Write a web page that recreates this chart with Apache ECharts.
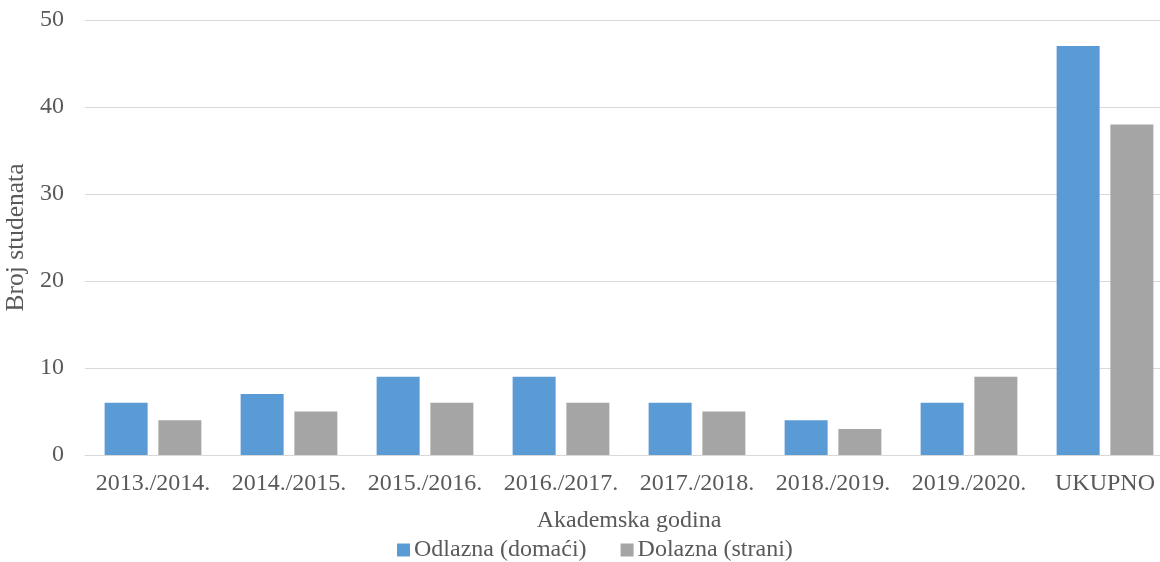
<!DOCTYPE html>
<html>
<head>
<meta charset="utf-8">
<script src="https://cdn.jsdelivr.net/npm/echarts@6/dist/echarts.min.js"></script>
<style>
  html, body { margin: 0; padding: 0; background: #fff; }
  #chart { width: 1160px; height: 562px; }
</style>
</head>
<body>
<div id="chart"></div>
<script>
(()=>{
    "use strict";
    // data
    const years = ["2013./2014.", "2014./2015.", "2015./2016.", "2016./2017.", "2017./2018.", "2018./2019.", "2019./2020.", "UKUPNO"];
    const odlazna = [6, 7, 9, 9, 6, 4, 6, 47];
    const dolazna = [4, 5, 6, 6, 5, 3, 9, 38];
    const seriesNames = ["Odlazna (domaći)", "Dolazna (strani)"];

    const font = "'Liberation Serif', 'Times New Roman', serif";
    const txt = "#595959";
    const fs = 24;

    let _chart = echarts.init(document.getElementById("chart"), null, {renderer: "canvas"});
    let _chartOption = {
        "animation": false,
        "color": ["#5B9BD5", "#A5A5A5"],
        "textStyle": {"fontFamily": font, "color": txt},
        "grid": {"left": 85, "right": -13, "top": 20, "bottom": 107, "containLabel": false, "outerBoundsMode": "none"},
        "legend": {
            "show": true, "top": 538, "left": 397,
            "itemWidth": 13, "itemHeight": 13, "itemGap": 34,
            "icon": "rect", "padding": 0,
            "textStyle": {"fontFamily": font, "fontSize": fs, "color": txt, "padding": [0, 0, 0, -1]},
            "data": seriesNames
        },
        "xAxis": {
            "type": "category", "data": years,
            "name": "Akademska godina", "nameLocation": "middle", "nameGap": 54,
            "nameTextStyle": {"fontFamily": font, "fontSize": fs, "color": txt},
            "axisLine": {"lineStyle": {"color": "#D9D9D9", "width": 1}},
            "axisTick": {"show": false},
            "axisLabel": {"fontFamily": font, "fontSize": fs, "color": txt, "margin": 17, "interval": 0, "hideOverlap": false}
        },
        "yAxis": {
            "type": "value", "min": 0, "max": 50, "interval": 10,
            "name": "Broj studenata", "nameLocation": "middle", "nameGap": 48, "nameRotate": 90,
            "nameTextStyle": {"fontFamily": font, "fontSize": 25.5, "color": txt},
            "axisLine": {"show": false},
            "axisTick": {"show": false},
            "axisLabel": {"fontFamily": font, "fontSize": fs, "color": txt, "margin": 21},
            "splitLine": {"lineStyle": {"color": "#D9D9D9", "width": 1}}
        },
        "series": [
            {"type": "bar", "name": seriesNames[0], "data": odlazna, "barWidth": 43, "barGap": "25%"},
            {"type": "bar", "name": seriesNames[1], "data": dolazna, "barWidth": 43, "barGap": "25%"}
        ]
    };
    _chart.setOption(_chartOption);
})();
</script>
</body>
</html>
